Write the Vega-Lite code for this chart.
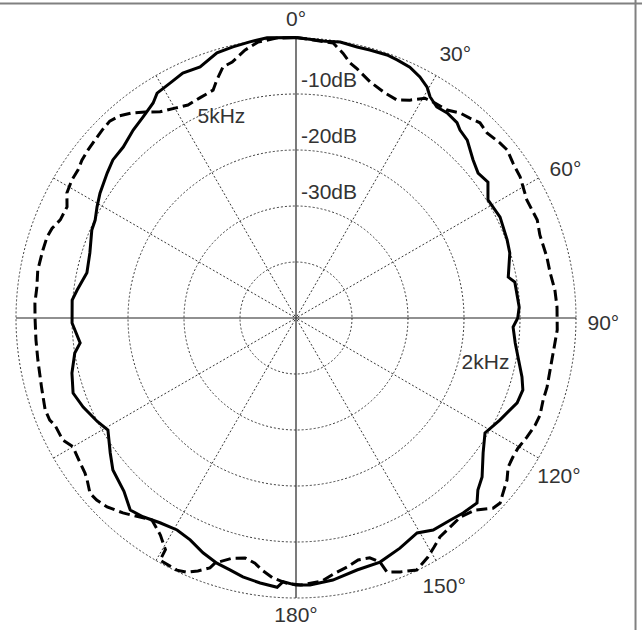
{
  "$schema": "https://vega.github.io/schema/vega-lite/v6.json",
  "width": 642,
  "height": 630,
  "padding": 0,
  "autosize": {"type": "none"},
  "background": "white",
  "config": {"view": {"stroke": null}, "font": "Liberation Sans"},
  "datasets": {
    "rings": [{"level": 0}, {"level": -10}, {"level": -20}, {"level": -30}, {"level": -40}],
    "spokes": [
      {"angle": 0}, {"angle": 30}, {"angle": 60}, {"angle": 90}, {"angle": 120}, {"angle": 150},
      {"angle": 180}, {"angle": 210}, {"angle": 240}, {"angle": 270}, {"angle": 300}, {"angle": 330}
    ],
    "angleLabels": [
      {"angle": 0, "text": "0°"}, {"angle": 30, "text": "30°"}, {"angle": 60, "text": "60°"},
      {"angle": 90, "text": "90°"}, {"angle": 120, "text": "120°"}, {"angle": 150, "text": "150°"},
      {"angle": 180, "text": "180°"}
    ],
    "dbLabels": [
      {"level": -10, "text": "-10dB"}, {"level": -20, "text": "-20dB"}, {"level": -30, "text": "-30dB"}
    ],
    "curveLabels": [
      {"angle": 339.6, "level": -11.8, "text": "5kHz"},
      {"angle": 103.5, "level": -15.2, "text": "2kHz"}
    ],
    "frame": [{"edge": "top"}],
    "response": [
      {"series": "2kHz", "angle": 0, "level": 0.1},
      {"series": "2kHz", "angle": 6, "level": -0.3},
      {"series": "2kHz", "angle": 9.1, "level": -0.1},
      {"series": "2kHz", "angle": 12.7, "level": -0.4},
      {"series": "2kHz", "angle": 15.4, "level": -0.35},
      {"series": "2kHz", "angle": 19.1, "level": -0.3},
      {"series": "2kHz", "angle": 21.4, "level": -0.5},
      {"series": "2kHz", "angle": 24.4, "level": -0.8},
      {"series": "2kHz", "angle": 27.2, "level": -1.6},
      {"series": "2kHz", "angle": 29.6, "level": -2.6},
      {"series": "2kHz", "angle": 31.2, "level": -3.8},
      {"series": "2kHz", "angle": 33.7, "level": -4.7},
      {"series": "2kHz", "angle": 36.4, "level": -4.5},
      {"series": "2kHz", "angle": 39.5, "level": -4.8},
      {"series": "2kHz", "angle": 41.1, "level": -5.45},
      {"series": "2kHz", "angle": 43.9, "level": -5.9},
      {"series": "2kHz", "angle": 48.2, "level": -7.6},
      {"series": "2kHz", "angle": 51.5, "level": -8.45},
      {"series": "2kHz", "angle": 54.7, "level": -8.0},
      {"series": "2kHz", "angle": 58.4, "level": -9.75},
      {"series": "2kHz", "angle": 63.7, "level": -9.35},
      {"series": "2kHz", "angle": 69.7, "level": -9.8},
      {"series": "2kHz", "angle": 73.1, "level": -10.1},
      {"series": "2kHz", "angle": 79.1, "level": -11.4},
      {"series": "2kHz", "angle": 80.7, "level": -10.4},
      {"series": "2kHz", "angle": 87.2, "level": -10.1},
      {"series": "2kHz", "angle": 90, "level": -10.4},
      {"series": "2kHz", "angle": 92.4, "level": -11.2},
      {"series": "2kHz", "angle": 96.5, "level": -10.6},
      {"series": "2kHz", "angle": 104.6, "level": -8.3},
      {"series": "2kHz", "angle": 107.6, "level": -7.5},
      {"series": "2kHz", "angle": 111, "level": -7.7},
      {"series": "2kHz", "angle": 116.6, "level": -9.3},
      {"series": "2kHz", "angle": 121.3, "level": -10.5},
      {"series": "2kHz", "angle": 125.8, "level": -8.8},
      {"series": "2kHz", "angle": 130.5, "level": -6.3},
      {"series": "2kHz", "angle": 133.4, "level": -5.3},
      {"series": "2kHz", "angle": 135.6, "level": -3.8},
      {"series": "2kHz", "angle": 139.4, "level": -4.15},
      {"series": "2kHz", "angle": 142.7, "level": -4.6},
      {"series": "2kHz", "angle": 147.1, "level": -4.9},
      {"series": "2kHz", "angle": 150.6, "level": -5.95},
      {"series": "2kHz", "angle": 155.7, "level": -4.9},
      {"series": "2kHz", "angle": 161, "level": -3.9},
      {"series": "2kHz", "angle": 166.4, "level": -3.7},
      {"series": "2kHz", "angle": 172, "level": -2.75},
      {"series": "2kHz", "angle": 177, "level": -2.25},
      {"series": "2kHz", "angle": 180, "level": -2.3},
      {"series": "2kHz", "angle": 182.8, "level": -2.85},
      {"series": "2kHz", "angle": 184, "level": -1.8},
      {"series": "2kHz", "angle": 187.7, "level": -2.25},
      {"series": "2kHz", "angle": 191.6, "level": -2.8},
      {"series": "2kHz", "angle": 194.7, "level": -3.5},
      {"series": "2kHz", "angle": 197.9, "level": -4.0},
      {"series": "2kHz", "angle": 201.6, "level": -4.9},
      {"series": "2kHz", "angle": 205.5, "level": -6.1},
      {"series": "2kHz", "angle": 209.3, "level": -6.6},
      {"series": "2kHz", "angle": 213.6, "level": -6.1},
      {"series": "2kHz", "angle": 217.6, "level": -5.2},
      {"series": "2kHz", "angle": 220.8, "level": -4.7},
      {"series": "2kHz", "angle": 224.8, "level": -6.4},
      {"series": "2kHz", "angle": 230.3, "level": -7.5},
      {"series": "2kHz", "angle": 234, "level": -9.0},
      {"series": "2kHz", "angle": 239.2, "level": -10.9},
      {"series": "2kHz", "angle": 242.5, "level": -10.0},
      {"series": "2kHz", "angle": 247.3, "level": -8.8},
      {"series": "2kHz", "angle": 251.4, "level": -8.0},
      {"series": "2kHz", "angle": 256.2, "level": -8.8},
      {"series": "2kHz", "angle": 261, "level": -10.0},
      {"series": "2kHz", "angle": 263.4, "level": -11.2},
      {"series": "2kHz", "angle": 268.7, "level": -10.0},
      {"series": "2kHz", "angle": 274.6, "level": -9.9},
      {"series": "2kHz", "angle": 277.3, "level": -10.6},
      {"series": "2kHz", "angle": 282.2, "level": -11.8},
      {"series": "2kHz", "angle": 287.5, "level": -11.4},
      {"series": "2kHz", "angle": 293.3, "level": -10.3},
      {"series": "2kHz", "angle": 296, "level": -10.1},
      {"series": "2kHz", "angle": 299.2, "level": -9.3},
      {"series": "2kHz", "angle": 302.5, "level": -8.5},
      {"series": "2kHz", "angle": 307.5, "level": -7.5},
      {"series": "2kHz", "angle": 310.8, "level": -6.8},
      {"series": "2kHz", "angle": 314.7, "level": -6.6},
      {"series": "2kHz", "angle": 319.1, "level": -5.6},
      {"series": "2kHz", "angle": 322.7, "level": -4.9},
      {"series": "2kHz", "angle": 326.4, "level": -3.9},
      {"series": "2kHz", "angle": 328.3, "level": -2.8},
      {"series": "2kHz", "angle": 331.8, "level": -2.4},
      {"series": "2kHz", "angle": 335.2, "level": -1.8},
      {"series": "2kHz", "angle": 339.1, "level": -2.0},
      {"series": "2kHz", "angle": 343.4, "level": -0.6},
      {"series": "2kHz", "angle": 346.9, "level": -0.3},
      {"series": "2kHz", "angle": 350.5, "level": 0},
      {"series": "2kHz", "angle": 354.1, "level": 0.3},
      {"series": "2kHz", "angle": 360, "level": 0.1},

      {"series": "5kHz", "angle": 0, "level": 0.1},
      {"series": "5kHz", "angle": 7.7, "level": -0.45},
      {"series": "5kHz", "angle": 10.1, "level": -2.0},
      {"series": "5kHz", "angle": 12, "level": -3.45},
      {"series": "5kHz", "angle": 13.8, "level": -4.2},
      {"series": "5kHz", "angle": 17.4, "level": -5.8},
      {"series": "5kHz", "angle": 21.6, "level": -6.8},
      {"series": "5kHz", "angle": 24.9, "level": -7.1},
      {"series": "5kHz", "angle": 27.6, "level": -6.1},
      {"series": "5kHz", "angle": 30.4, "level": -4.5},
      {"series": "5kHz", "angle": 32.9, "level": -4.3},
      {"series": "5kHz", "angle": 36, "level": -4.1},
      {"series": "5kHz", "angle": 38.7, "level": -3.1},
      {"series": "5kHz", "angle": 41, "level": -2.7},
      {"series": "5kHz", "angle": 43.3, "level": -2.1},
      {"series": "5kHz", "angle": 45.9, "level": -2.5},
      {"series": "5kHz", "angle": 49.4, "level": -2.0},
      {"series": "5kHz", "angle": 51.5, "level": -1.8},
      {"series": "5kHz", "angle": 54.5, "level": -2.4},
      {"series": "5kHz", "angle": 57.8, "level": -2.7},
      {"series": "5kHz", "angle": 62.9, "level": -3.7},
      {"series": "5kHz", "angle": 67.9, "level": -3.5},
      {"series": "5kHz", "angle": 71.2, "level": -4.0},
      {"series": "5kHz", "angle": 76.3, "level": -3.9},
      {"series": "5kHz", "angle": 80, "level": -3.9},
      {"series": "5kHz", "angle": 83.8, "level": -3.5},
      {"series": "5kHz", "angle": 87.6, "level": -3.35},
      {"series": "5kHz", "angle": 92.6, "level": -3.3},
      {"series": "5kHz", "angle": 96.4, "level": -3.6},
      {"series": "5kHz", "angle": 100.4, "level": -3.7},
      {"series": "5kHz", "angle": 105.4, "level": -3.5},
      {"series": "5kHz", "angle": 108.4, "level": -3.5},
      {"series": "5kHz", "angle": 111.7, "level": -3.1},
      {"series": "5kHz", "angle": 114.1, "level": -3.2},
      {"series": "5kHz", "angle": 117.3, "level": -3.6},
      {"series": "5kHz", "angle": 120.4, "level": -4.05},
      {"series": "5kHz", "angle": 122.6, "level": -4.0},
      {"series": "5kHz", "angle": 125.1, "level": -3.7},
      {"series": "5kHz", "angle": 127.5, "level": -2.5},
      {"series": "5kHz", "angle": 130.2, "level": -1.6},
      {"series": "5kHz", "angle": 132.2, "level": -0.8},
      {"series": "5kHz", "angle": 134, "level": -1.1},
      {"series": "5kHz", "angle": 137, "level": -3.1},
      {"series": "5kHz", "angle": 140.5, "level": -3.9},
      {"series": "5kHz", "angle": 146.7, "level": -3.2},
      {"series": "5kHz", "angle": 148.9, "level": -2.25},
      {"series": "5kHz", "angle": 151.1, "level": -1.25},
      {"series": "5kHz", "angle": 154.4, "level": -0.1},
      {"series": "5kHz", "angle": 157.7, "level": -1.0},
      {"series": "5kHz", "angle": 160.3, "level": -1.8},
      {"series": "5kHz", "angle": 161, "level": -3.9},
      {"series": "5kHz", "angle": 162.9, "level": -5.2},
      {"series": "5kHz", "angle": 165.6, "level": -5.4},
      {"series": "5kHz", "angle": 168.4, "level": -4.6},
      {"series": "5kHz", "angle": 171.3, "level": -3.9},
      {"series": "5kHz", "angle": 174.4, "level": -2.8},
      {"series": "5kHz", "angle": 179, "level": -2.3},
      {"series": "5kHz", "angle": 182, "level": -2.6},
      {"series": "5kHz", "angle": 185.1, "level": -3.4},
      {"series": "5kHz", "angle": 187.7, "level": -4.6},
      {"series": "5kHz", "angle": 189.5, "level": -5.6},
      {"series": "5kHz", "angle": 192, "level": -6.2},
      {"series": "5kHz", "angle": 194.9, "level": -5.6},
      {"series": "5kHz", "angle": 198.3, "level": -3.9},
      {"series": "5kHz", "angle": 199, "level": -2.8},
      {"series": "5kHz", "angle": 201.2, "level": -1.55},
      {"series": "5kHz", "angle": 203.2, "level": -0.6},
      {"series": "5kHz", "angle": 205.3, "level": -0.2},
      {"series": "5kHz", "angle": 206.6, "level": -0.3},
      {"series": "5kHz", "angle": 209.3, "level": -0.4},
      {"series": "5kHz", "angle": 209.4, "level": -2.5},
      {"series": "5kHz", "angle": 212, "level": -4.3},
      {"series": "5kHz", "angle": 215.5, "level": -5.7},
      {"series": "5kHz", "angle": 221.6, "level": -3.45},
      {"series": "5kHz", "angle": 225, "level": -2.3},
      {"series": "5kHz", "angle": 227.6, "level": -1.8},
      {"series": "5kHz", "angle": 229.6, "level": -1.7},
      {"series": "5kHz", "angle": 232.2, "level": -2.8},
      {"series": "5kHz", "angle": 233.7, "level": -3.25},
      {"series": "5kHz", "angle": 236.3, "level": -3.6},
      {"series": "5kHz", "angle": 240, "level": -4.0},
      {"series": "5kHz", "angle": 242.4, "level": -3.0},
      {"series": "5kHz", "angle": 246, "level": -2.9},
      {"series": "5kHz", "angle": 247.5, "level": -2.4},
      {"series": "5kHz", "angle": 249.9, "level": -2.3},
      {"series": "5kHz", "angle": 254.7, "level": -2.9},
      {"series": "5kHz", "angle": 260.8, "level": -3.3},
      {"series": "5kHz", "angle": 265.2, "level": -3.4},
      {"series": "5kHz", "angle": 270, "level": -3.4},
      {"series": "5kHz", "angle": 273.3, "level": -3.3},
      {"series": "5kHz", "angle": 276.8, "level": -3.4},
      {"series": "5kHz", "angle": 280.5, "level": -3.1},
      {"series": "5kHz", "angle": 285, "level": -3.2},
      {"series": "5kHz", "angle": 288, "level": -3.25},
      {"series": "5kHz", "angle": 290.2, "level": -3.6},
      {"series": "5kHz", "angle": 292.6, "level": -4.4},
      {"series": "5kHz", "angle": 295.9, "level": -4.55},
      {"series": "5kHz", "angle": 298.6, "level": -3.4},
      {"series": "5kHz", "angle": 301.6, "level": -3.0},
      {"series": "5kHz", "angle": 304.2, "level": -2.95},
      {"series": "5kHz", "angle": 306.4, "level": -2.5},
      {"series": "5kHz", "angle": 308.9, "level": -2.25},
      {"series": "5kHz", "angle": 311.5, "level": -2.05},
      {"series": "5kHz", "angle": 314.1, "level": -1.8},
      {"series": "5kHz", "angle": 316.6, "level": -1.6},
      {"series": "5kHz", "angle": 318.9, "level": -2.1},
      {"series": "5kHz", "angle": 321.3, "level": -3.1},
      {"series": "5kHz", "angle": 323.8, "level": -4.4},
      {"series": "5kHz", "angle": 326.6, "level": -5.9},
      {"series": "5kHz", "angle": 330.3, "level": -6.8},
      {"series": "5kHz", "angle": 333.1, "level": -7.35},
      {"series": "5kHz", "angle": 336.4, "level": -7.1},
      {"series": "5kHz", "angle": 340, "level": -6.7},
      {"series": "5kHz", "angle": 341.6, "level": -5.2},
      {"series": "5kHz", "angle": 343.8, "level": -3.3},
      {"series": "5kHz", "angle": 346, "level": -2.9},
      {"series": "5kHz", "angle": 349.2, "level": -1.3},
      {"series": "5kHz", "angle": 352.2, "level": -0.25},
      {"series": "5kHz", "angle": 356, "level": 0.1},
      {"series": "5kHz", "angle": 360, "level": 0.1}
    ]
  },
  "layer": [
    {
      "data": {"name": "rings"},
      "transform": [{"calculate": "datum.level + 50", "as": "rho"}],
      "mark": {"type": "point", "shape": "circle", "filled": false, "stroke": "#3a3a3a", "strokeWidth": 1, "strokeDash": [2, 2], "opacity": 1},
      "encoding": {
        "x": {"datum": 0, "type": "quantitative", "scale": {"domain": [-52.857, 61.786], "nice": false, "zero": false}, "axis": null},
        "y": {"datum": 0, "type": "quantitative", "scale": {"domain": [-55.714, 56.786], "nice": false, "zero": false}, "axis": null},
        "size": {"field": "rho", "type": "quantitative", "scale": {"type": "pow", "exponent": 2, "domain": [0, 50], "range": [0, 313600], "zero": true}, "legend": null}
      }
    },
    {
      "data": {"name": "spokes"},
      "transform": [
        {"filter": "datum.angle % 90 != 0"},
        {"calculate": "50 * sin(datum.angle * PI / 180)", "as": "ex"},
        {"calculate": "50 * cos(datum.angle * PI / 180)", "as": "ey"}
      ],
      "mark": {"type": "rule", "stroke": "#3a3a3a", "strokeWidth": 1, "strokeDash": [2, 2]},
      "encoding": {
        "x": {"field": "ex", "type": "quantitative", "scale": {"domain": [-52.857, 61.786], "nice": false, "zero": false}, "axis": null},
        "y": {"field": "ey", "type": "quantitative", "scale": {"domain": [-55.714, 56.786], "nice": false, "zero": false}, "axis": null},
        "x2": {"datum": 0},
        "y2": {"datum": 0}
      }
    },
    {
      "data": {"name": "spokes"},
      "transform": [
        {"filter": "datum.angle % 90 == 0"},
        {"calculate": "50 * sin(datum.angle * PI / 180)", "as": "ex"},
        {"calculate": "50 * cos(datum.angle * PI / 180)", "as": "ey"}
      ],
      "mark": {"type": "rule", "stroke": "#222222", "strokeWidth": 1.2},
      "encoding": {
        "x": {"field": "ex", "type": "quantitative", "scale": {"domain": [-52.857, 61.786], "nice": false, "zero": false}, "axis": null},
        "y": {"field": "ey", "type": "quantitative", "scale": {"domain": [-55.714, 56.786], "nice": false, "zero": false}, "axis": null},
        "x2": {"datum": 0},
        "y2": {"datum": 0}
      }
    },
    {
      "data": {"name": "response"},
      "transform": [
        {"filter": "datum.series == '2kHz'"},
        {"calculate": "datum.level + 50", "as": "rho"},
        {"calculate": "datum.rho * sin(datum.angle * PI / 180)", "as": "px"},
        {"calculate": "datum.rho * cos(datum.angle * PI / 180)", "as": "py"}
      ],
      "mark": {"type": "line", "stroke": "black", "strokeWidth": 3, "strokeJoin": "miter"},
      "encoding": {
        "x": {"field": "px", "type": "quantitative", "scale": {"domain": [-52.857, 61.786], "nice": false, "zero": false}, "axis": null},
        "y": {"field": "py", "type": "quantitative", "scale": {"domain": [-55.714, 56.786], "nice": false, "zero": false}, "axis": null},
        "order": {"field": "angle", "type": "quantitative"}
      }
    },
    {
      "data": {"name": "response"},
      "transform": [
        {"filter": "datum.series == '5kHz'"},
        {"calculate": "datum.level + 50", "as": "rho"},
        {"calculate": "datum.rho * sin(datum.angle * PI / 180)", "as": "px"},
        {"calculate": "datum.rho * cos(datum.angle * PI / 180)", "as": "py"}
      ],
      "mark": {"type": "line", "stroke": "black", "strokeWidth": 3, "strokeDash": [11, 5], "strokeJoin": "miter"},
      "encoding": {
        "x": {"field": "px", "type": "quantitative", "scale": {"domain": [-52.857, 61.786], "nice": false, "zero": false}, "axis": null},
        "y": {"field": "py", "type": "quantitative", "scale": {"domain": [-55.714, 56.786], "nice": false, "zero": false}, "axis": null},
        "order": {"field": "angle", "type": "quantitative"}
      }
    },
    {
      "data": {"name": "angleLabels"},
      "transform": [
        {"calculate": "datum.angle % 180 == 0 ? 53.3 : 54.9", "as": "rho"},
        {"calculate": "datum.angle % 180 == 0 ? datum.angle : datum.angle + 1.2", "as": "la"},
        {"calculate": "datum.rho * sin(datum.la * PI / 180)", "as": "px"},
        {"calculate": "datum.rho * cos(datum.la * PI / 180)", "as": "py"}
      ],
      "mark": {"type": "text", "align": "center", "baseline": "middle", "fontSize": 21, "color": "#333333"},
      "encoding": {
        "x": {"field": "px", "type": "quantitative", "scale": {"domain": [-52.857, 61.786], "nice": false, "zero": false}, "axis": null},
        "y": {"field": "py", "type": "quantitative", "scale": {"domain": [-55.714, 56.786], "nice": false, "zero": false}, "axis": null},
        "text": {"field": "text", "type": "nominal"}
      }
    },
    {
      "data": {"name": "dbLabels"},
      "transform": [{"calculate": "datum.level + 50", "as": "rho"}],
      "mark": {"type": "text", "align": "left", "baseline": "alphabetic", "dx": 5, "dy": -7, "fontSize": 21, "color": "#333333"},
      "encoding": {
        "x": {"datum": 0, "type": "quantitative", "scale": {"domain": [-52.857, 61.786], "nice": false, "zero": false}, "axis": null},
        "y": {"field": "rho", "type": "quantitative", "scale": {"domain": [-55.714, 56.786], "nice": false, "zero": false}, "axis": null},
        "text": {"field": "text", "type": "nominal"}
      }
    },
    {
      "data": {"name": "curveLabels"},
      "transform": [
        {"calculate": "datum.level + 50", "as": "rho"},
        {"calculate": "datum.rho * sin(datum.angle * PI / 180)", "as": "px"},
        {"calculate": "datum.rho * cos(datum.angle * PI / 180)", "as": "py"}
      ],
      "mark": {"type": "text", "align": "center", "baseline": "middle", "fontSize": 21, "color": "#333333"},
      "encoding": {
        "x": {"field": "px", "type": "quantitative", "scale": {"domain": [-52.857, 61.786], "nice": false, "zero": false}, "axis": null},
        "y": {"field": "py", "type": "quantitative", "scale": {"domain": [-55.714, 56.786], "nice": false, "zero": false}, "axis": null},
        "text": {"field": "text", "type": "nominal"}
      }
    },
    {
      "data": {"name": "frame"},
      "mark": {"type": "rule", "stroke": "#808080", "strokeWidth": 2},
      "encoding": {
        "y": {"datum": 56.16, "type": "quantitative", "scale": {"domain": [-55.714, 56.786], "nice": false, "zero": false}, "axis": null}
      }
    },
    {
      "data": {"name": "frame"},
      "mark": {"type": "rule", "stroke": "#808080", "strokeWidth": 2},
      "encoding": {
        "x": {"datum": 60.63, "type": "quantitative", "scale": {"domain": [-52.857, 61.786], "nice": false, "zero": false}, "axis": null}
      }
    }
  ]
}
